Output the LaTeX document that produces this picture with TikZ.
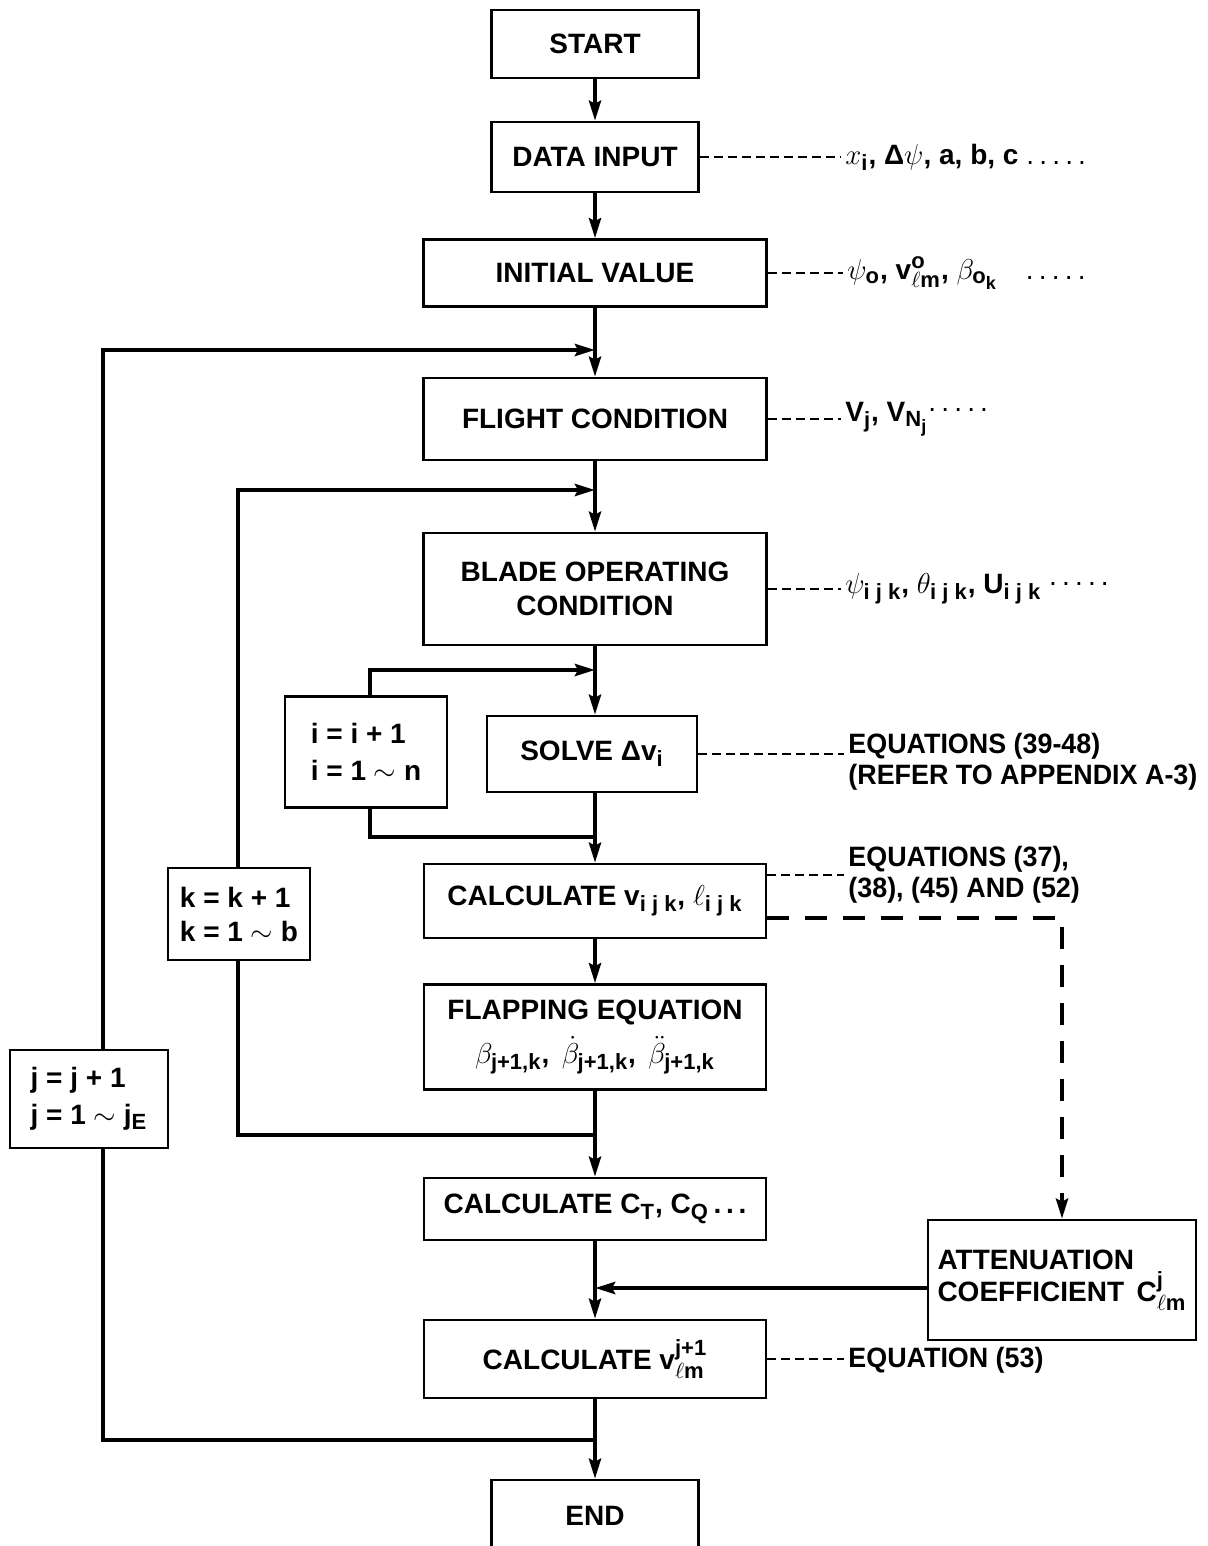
\documentclass[tikz,border=0pt]{standalone}
\usepackage{fontspec}
\setmainfont{Liberation Sans}
\newfontfamily\condf[FakeStretch=0.96]{Liberation Sans}
\usetikzlibrary{arrows.meta,calc}
\DeclareMathSizes{14}{14}{11}{9}
\newcommand{\bsub}[1]{\mbox{\fontsize{11}{11}\selectfont\bfseries #1}}
\newcommand{\bsubb}[1]{\mbox{\fontsize{9}{9}\selectfont\bfseries #1}}
\newcommand{\tv}{\mbox{v}}
\newcommand{\fivedots}{{\mdseries .\hspace{2.6pt}.\hspace{2.6pt}.\hspace{2.6pt}.\hspace{2.6pt}.}}
\begin{document}
\begin{tikzpicture}[x=0.5pt,y=-0.5pt,
  box/.style={draw,line width=1.3pt,inner sep=0pt,align=center,font=\fontsize{14}{17}\selectfont\bfseries},
  sz/.style 2 args={minimum width=#1*0.5pt,minimum height=#2*0.5pt},
  flow/.style={line width=2pt},
  arr/.style={flow,-{Stealth[length=10pt,width=6pt,inset=1.5pt]}},
  note/.style={anchor=west,inner sep=0pt,align=left,font=\fontsize{14}{15.5}\selectfont\bfseries},
  eqnote/.style={note,font=\fontsize{14}{15.5}\selectfont\condf\bfseries},
  thindash/.style={line width=0.8pt,dash pattern=on 4.5pt off 2.5pt,shorten >=2pt},
  bigdash/.style={line width=2pt,dash pattern=on 11pt off 8pt}]
\clip (0,0) rectangle (1207,1546);
\fill[white] (0,0) rectangle (1207,1546);

% main boxes
\node[box,sz={207}{68}] (start) at (595,44) {START};
\node[box,sz={207}{70}] (datain) at (595,157) {DATA INPUT};
\node[box,sz={343}{67}] (init) at (595,273) {INITIAL VALUE};
\node[box,sz={343}{82}] (flight) at (595,419) {FLIGHT CONDITION};
\node[box,sz={343}{112}] (blade) at (595,589) {BLADE OPERATING\\CONDITION};
\node[box,sz={210}{76}] (solve) at (592,754) {SOLVE Δ$\tv_{\bsub{i}}$};
\node[box,sz={342}{74}] (calcv) at (595,901) {CALCULATE $\tv_{\bsub{i j k}}$, $\ell_{\bsub{i j k}}$};
\node[box,sz={342}{105}] (flap) at (595,1037) {FLAPPING EQUATION\\[5pt]$\beta_{\bsub{j+1,k}}$,\, $\dot\beta_{\bsub{j+1,k}}$,\, $\ddot\beta_{\bsub{j+1,k}}$};
\node[box,sz={342}{62}] (calcct) at (595,1209) {CALCULATE C$_{\bsub{T}}$, C$_{\bsub{Q}}$\,.\,.\,.};
\node[box,sz={268}{120},align=left] (atten) at (1062,1280) {ATTENUATION\\[-1pt]COEFFICIENT \,C$^{\bsub{j}}_{\ell\bsub{m}}$};
\node[box,sz={342}{78}] (calcvlm) at (595,1359) {CALCULATE $\tv^{\bsub{j+1}}_{\ell\bsub{m}}$};
\node[box,sz={207}{72}] (endn) at (595,1516) {END};

% loop boxes
\node[box,sz={162}{111},align=left] (ibox) at (366,752) {i = i + 1\\[1.5pt]i = 1 $\sim$ n};
\node[box,sz={142}{92},align=left] (kbox) at (239,914) {k = k + 1\\k = 1 $\sim$ b};
\node[box,sz={158}{98},align=left] (jbox) at (89,1099) {j = j + 1\\[1.5pt]j = 1 $\sim$ j$_{\bsub{E}}$};

% annotations
\node[note] (n1) at (845,157) {$x_{\bsub{i}}$, Δ$\psi$, a, b, c \fivedots};
\node[note] (n2) at (847,273) {$\psi_{\bsub{o}}$, $\tv^{\bsub{o}}_{\ell\bsub{m}}$, $\beta_{\bsub{o}_{\bsubb{k}}}$\quad\fivedots};
\node[note] (n3) at (845,419) {V$_{\bsub{j}}$, V$_{\bsub{N}_{\bsubb{j}}}$\raisebox{5pt}{\fivedots}};
\node[note] (n4) at (845,589) {$\psi_{\bsub{i j k}}$, $\theta_{\bsub{i j k}}$, U$_{\bsub{i j k}}$ \raisebox{4pt}{\fivedots}};
\node[eqnote] (n5) at (848,762) {EQUATIONS (39-48)\\(REFER TO APPENDIX A-3)};
\node[eqnote] (n6) at (848,875) {EQUATIONS (37),\\(38), (45) AND (52)};
\node[eqnote] (n7) at (848,1360) {EQUATION (53)};

% junction coordinates
\coordinate (jin) at (595,350);
\coordinate (kin) at (595,490);
\coordinate (iin) at (595,670);
\coordinate (iout) at (595,837);
\coordinate (kout) at (595,1135);
\coordinate (ain) at (595,1288);
\coordinate (jout) at (595,1440);
\coordinate (jx) at (103,0);
\coordinate (kx) at (238,0);
\coordinate (ix) at (370,0);
\coordinate (dc) at (1062,918);

% main flow
\draw[arr] (start) -- (datain);
\draw[arr] (datain) -- (init);
\draw[arr] (init) -- (flight);
\draw[arr] (flight) -- (blade);
\draw[arr] (blade.south) -- (blade.south |- solve.north);
\draw[arr] (solve.south -| calcv.north) -- (calcv.north);
\draw[arr] (calcv) -- (flap);
\draw[arr] (flap) -- (calcct);
\draw[arr] (calcct) -- (calcvlm);
\draw[arr] (calcvlm) -- (endn);

% loops
\draw[arr] (jbox.north -| jx) -- (jx |- jin) -- (jin);
\draw[flow] (jbox.south -| jx) -- (jx |- jout) -- (jout);
\draw[arr] (kbox.north -| kx) -- (kx |- kin) -- (kin);
\draw[flow] (kbox.south -| kx) -- (kx |- kout) -- (kout);
\draw[arr] (ibox.north -| ix) -- (ix |- iin) -- (iin);
\draw[flow] (ibox.south -| ix) -- (ix |- iout) -- (iout);
\draw[arr] (atten.west |- ain) -- (ain);
\draw[bigdash,-{Stealth[length=10pt,width=6pt,inset=1.5pt]}] (calcv.east |- dc) -- (dc) -- (atten.north);

% annotation leaders
\draw[thindash] (datain.east) -- (datain.east -| n1.west);
\draw[thindash] (init.east) -- (init.east -| n2.west);
\draw[thindash] (flight.east) -- (flight.east -| n3.west);
\draw[thindash] (blade.east) -- (blade.east -| n4.west);
\draw[thindash] (solve.east) -- (solve.east -| n5.west);
\draw[thindash] (calcv.east |- n6.west) -- (n6.west);
\draw[thindash] (calcvlm.east) -- (calcvlm.east -| n7.west);
\end{tikzpicture}
\end{document}
